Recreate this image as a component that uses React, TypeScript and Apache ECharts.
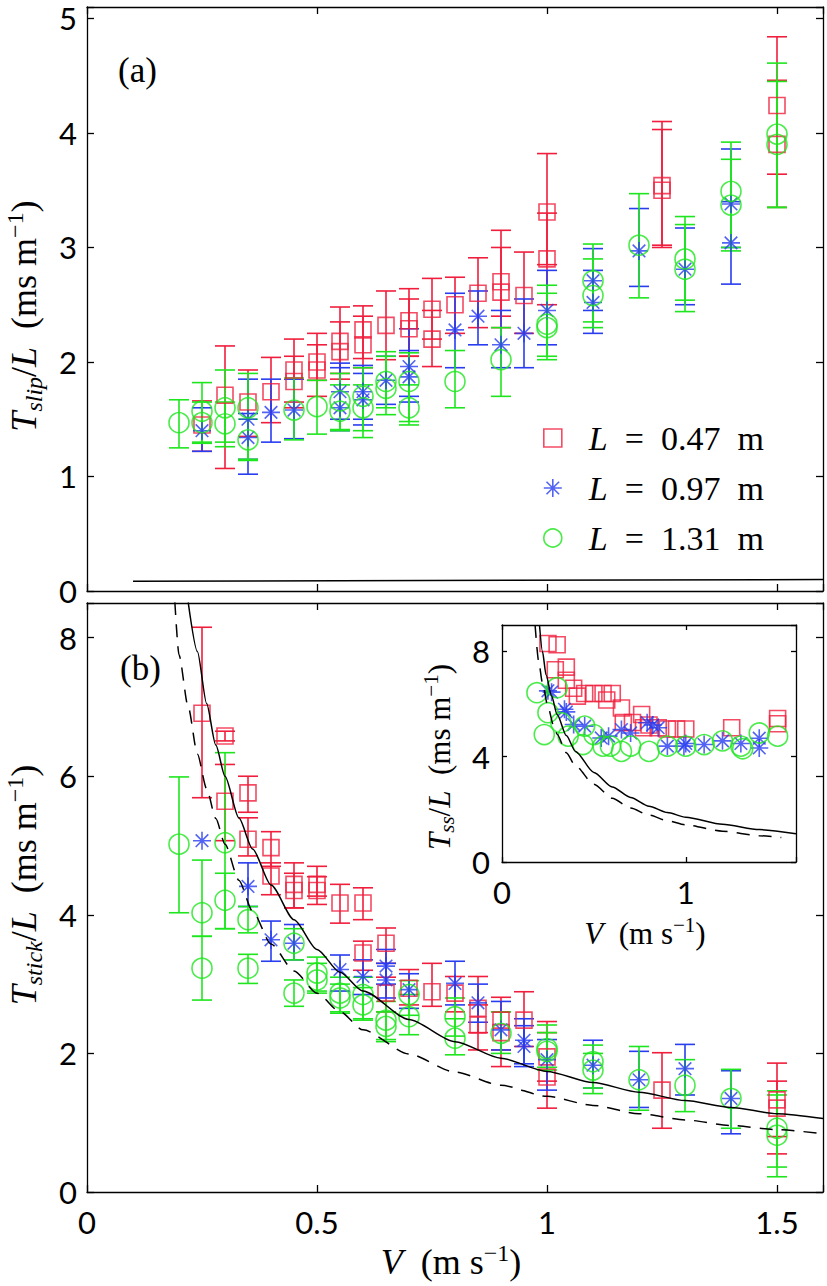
import React, { useEffect, useRef } from "react";
import * as echarts from "echarts";

const RED = "#f01e3c";
const BLUE = "#283cf0";
const GREEN = "#1ee61e";

// Panel (a): [V, Tslip/L, low, high]
const slip047: number[][] = [
  [0.25, 1.45, 1.22, 1.66], [0.3, 1.71, 1.07, 2.14], [0.35, 1.65, 1.35, 1.93], [0.4, 1.74, 1.47, 2.04],
  [0.45, 1.93, 1.65, 2.2], [0.45, 1.83, 1.6, 2.05], [0.5, 2.0, 1.84, 2.25], [0.5, 1.93, 1.7, 2.15],
  [0.55, 2.18, 1.9, 2.48], [0.55, 2.09, 1.85, 2.35], [0.6, 2.28, 2.03, 2.49], [0.6, 2.15, 1.95, 2.4],
  [0.65, 2.32, 2.02, 2.62], [0.7, 2.36, 2.05, 2.64], [0.7, 2.29, 2.05, 2.55], [0.75, 2.46, 2.2, 2.73],
  [0.75, 2.2, 1.96, 2.45], [0.8, 2.5, 2.25, 2.74], [0.85, 2.6, 2.3, 2.91], [0.9, 2.7, 2.4, 3.15],
  [0.9, 2.61, 2.3, 3.0], [0.95, 2.58, 2.25, 2.96], [1.0, 3.31, 2.85, 3.82], [1.0, 2.9, 2.5, 3.3],
  [1.25, 3.54, 3.0, 4.1], [1.25, 3.5, 3.02, 4.03], [1.5, 4.24, 3.64, 4.84], [1.5, 3.9, 3.35, 4.46],
];
const slip097: number[][] = [
  [0.25, 1.4, 1.22, 1.6], [0.35, 1.5, 1.02, 1.85], [0.35, 1.34, 1.15, 1.55], [0.4, 1.56, 1.3, 1.85],
  [0.45, 1.58, 1.33, 1.85], [0.55, 1.6, 1.4, 1.99], [0.55, 1.74, 1.5, 1.95], [0.6, 1.74, 1.5, 1.97],
  [0.6, 1.67, 1.45, 1.9], [0.65, 1.84, 1.63, 2.05], [0.7, 1.96, 1.7, 2.29], [0.7, 1.87, 1.65, 2.1],
  [0.8, 2.28, 1.95, 2.6], [0.85, 2.4, 2.15, 2.62], [0.9, 2.15, 1.95, 2.45], [0.95, 2.25, 1.95, 2.55],
  [1.0, 2.45, 2.15, 2.8], [1.1, 2.71, 2.45, 2.99], [1.1, 2.52, 2.25, 2.8], [1.2, 2.97, 2.66, 3.34],
  [1.3, 2.81, 2.5, 3.17], [1.4, 3.38, 3.0, 3.86], [1.4, 3.04, 2.68, 3.4],
];
const slip131: number[][] = [
  [0.2, 1.47, 1.25, 1.67], [0.25, 1.57, 1.29, 1.82], [0.25, 1.47, 1.3, 1.65], [0.3, 1.6, 1.26, 1.93],
  [0.3, 1.46, 1.3, 1.65], [0.35, 1.6, 1.14, 1.9], [0.35, 1.32, 1.15, 1.5], [0.45, 1.58, 1.32, 1.86],
  [0.5, 1.61, 1.37, 1.84], [0.55, 1.66, 1.41, 1.9], [0.55, 1.57, 1.4, 1.8], [0.6, 1.7, 1.34, 1.95],
  [0.6, 1.6, 1.4, 1.8], [0.65, 1.77, 1.54, 2.09], [0.65, 1.83, 1.6, 2.05], [0.7, 1.83, 1.48, 2.08],
  [0.7, 1.6, 1.45, 1.8], [0.8, 1.83, 1.6, 2.1], [0.9, 2.02, 1.7, 2.3], [1.0, 2.33, 2.05, 2.67],
  [1.0, 2.3, 2.02, 2.6], [1.1, 2.71, 2.35, 3.03], [1.1, 2.58, 2.3, 2.9], [1.2, 3.02, 2.56, 3.47],
  [1.3, 2.9, 2.54, 3.27], [1.3, 2.81, 2.44, 3.2], [1.4, 3.49, 2.97, 3.92], [1.4, 3.37, 3.0, 3.77],
  [1.5, 3.99, 3.35, 4.61], [1.5, 3.9, 3.35, 4.45],
];
const slipBaseline: number[][] = [[0.1, 0.085], [1.6, 0.1]];

// Panel (b): [V, Tstick/L, low, high]
const stick047: number[][] = [
  [0.25, 6.91, 5.69, 8.15], [0.3, 6.58, 6.51, 6.65], [0.3, 5.64, 5.07, 6.17], [0.35, 5.76, 5.48, 6.0],
  [0.35, 5.09, 4.85, 5.4], [0.4, 4.97, 4.7, 5.2], [0.4, 4.56, 4.29, 4.75], [0.45, 4.44, 4.1, 4.75],
  [0.45, 4.35, 4.1, 4.6], [0.5, 4.44, 4.27, 4.7], [0.5, 4.35, 4.15, 4.55], [0.55, 4.17, 3.88, 4.44],
  [0.6, 4.17, 3.93, 4.39], [0.6, 3.45, 3.2, 3.62], [0.65, 3.59, 3.3, 3.81], [0.65, 2.87, 2.6, 3.1],
  [0.7, 2.94, 2.7, 3.21], [0.75, 2.89, 2.68, 3.3], [0.8, 2.87, 2.6, 3.11], [0.85, 2.65, 2.3, 3.11],
  [0.85, 2.41, 2.05, 2.7], [0.9, 2.48, 1.81, 2.81], [0.9, 2.3, 2.05, 2.6], [0.95, 2.48, 2.1, 2.89],
  [1.0, 1.95, 1.6, 2.3], [1.0, 1.66, 1.21, 2.46], [1.25, 1.47, 0.92, 2.01], [1.5, 1.33, 0.55, 1.86],
  [1.5, 1.21, 0.8, 1.6],
];
const stick097: number[][] = [
  [0.25, 5.07, 5.07, 5.07], [0.35, 4.41, 4.12, 4.75], [0.4, 3.64, 3.33, 3.91], [0.45, 3.59, 3.35, 3.86],
  [0.55, 3.21, 2.9, 3.42], [0.6, 3.11, 2.85, 3.35], [0.65, 3.26, 3.0, 3.5], [0.65, 3.06, 2.8, 3.3],
  [0.7, 2.92, 2.65, 3.15], [0.8, 3.01, 2.7, 3.33], [0.85, 2.73, 2.45, 3.0], [0.9, 2.34, 2.05, 2.75],
  [0.95, 2.19, 1.81, 2.5], [0.95, 2.1, 1.85, 2.4], [1.0, 1.91, 1.47, 2.2], [1.1, 1.83, 1.5, 2.19],
  [1.2, 1.62, 1.22, 2.03], [1.3, 1.78, 1.4, 2.13], [1.4, 1.35, 0.84, 1.75],
];
const stick131: number[][] = [
  [0.2, 5.02, 4.03, 5.99], [0.25, 4.03, 3.69, 4.79], [0.25, 3.23, 2.77, 3.69], [0.3, 5.04, 3.8, 6.34],
  [0.3, 4.21, 3.8, 4.6], [0.35, 3.93, 3.74, 4.12], [0.35, 3.23, 3.01, 3.43], [0.45, 3.59, 3.35, 3.8],
  [0.45, 2.87, 2.68, 3.06], [0.5, 3.16, 2.87, 3.39], [0.5, 3.06, 2.9, 3.3], [0.55, 2.87, 2.58, 3.1],
  [0.55, 2.8, 2.6, 3.0], [0.6, 2.85, 2.48, 3.1], [0.6, 2.7, 2.5, 2.95], [0.65, 2.48, 2.17, 2.75],
  [0.65, 2.39, 2.2, 2.6], [0.7, 2.85, 2.55, 3.05], [0.7, 2.53, 2.27, 2.85], [0.8, 2.53, 2.25, 2.8],
  [0.8, 2.22, 1.98, 2.5], [0.9, 2.29, 2.0, 2.6], [1.0, 2.07, 1.76, 2.41], [1.0, 2.03, 1.8, 2.3],
  [1.1, 1.88, 1.42, 2.12], [1.1, 1.76, 1.5, 2.0], [1.2, 1.62, 1.18, 2.1], [1.3, 1.54, 1.16, 1.91],
  [1.4, 1.35, 0.92, 1.77], [1.5, 0.92, 0.22, 1.46], [1.5, 0.82, 0.36, 1.4],
];
// model curves
const stickModelSolid: number[][] = [
  [0.22, 8.51], [0.24, 7.8], [0.26, 7.05], [0.28, 6.45], [0.3, 6.0], [0.33, 5.4], [0.36, 4.95], [0.4, 4.43],
  [0.45, 3.93], [0.5, 3.5], [0.55, 3.17], [0.6, 2.9], [0.7, 2.49], [0.8, 2.17], [0.9, 1.93], [1.0, 1.74],
  [1.1, 1.58], [1.2, 1.44], [1.3, 1.32], [1.4, 1.22], [1.5, 1.13], [1.6, 1.06],
];
const stickModelDashed: number[][] = [
  [0.191, 8.51], [0.2, 7.75], [0.22, 7.0], [0.24, 6.32], [0.26, 5.82], [0.28, 5.39], [0.3, 5.02], [0.33, 4.5],
  [0.36, 4.05], [0.4, 3.58], [0.45, 3.19], [0.5, 2.87], [0.55, 2.6], [0.6, 2.34], [0.7, 1.99], [0.8, 1.73],
  [0.9, 1.54], [1.0, 1.38], [1.1, 1.25], [1.2, 1.13], [1.3, 1.04], [1.4, 0.96], [1.5, 0.9], [1.6, 0.84],
];

// Inset: [V, Tss/L]
const ss047: number[][] = [
  [0.25, 8.3], [0.3, 8.25], [0.29, 7.3], [0.35, 7.4], [0.35, 6.9], [0.39, 6.6], [0.41, 6.3], [0.45, 6.4],
  [0.5, 6.4], [0.55, 6.4], [0.6, 6.4], [0.57, 6.15], [0.65, 5.85], [0.66, 5.3], [0.71, 5.3], [0.76, 5.6],
  [0.77, 5.1], [0.8, 5.2], [0.85, 5.1], [0.9, 5.05], [0.95, 5.05], [1.0, 5.05], [1.25, 5.1], [1.5, 5.45], [1.5, 5.25],
];
const ss097: number[][] = [
  [0.25, 6.5], [0.27, 6.45], [0.34, 5.8], [0.35, 5.7], [0.39, 5.22], [0.45, 5.16], [0.54, 4.71], [0.58, 4.78],
  [0.65, 5.03], [0.7, 4.9], [0.79, 5.29], [0.82, 5.2], [0.85, 5.1], [0.9, 4.4], [0.99, 4.4], [1.0, 4.5],
  [1.1, 4.46], [1.2, 4.6], [1.3, 4.5], [1.4, 4.7], [1.4, 4.33],
];
const ss131: number[][] = [
  [0.19, 6.43], [0.25, 5.67], [0.3, 6.62], [0.23, 4.84], [0.32, 5.29], [0.36, 4.78], [0.45, 5.16], [0.44, 4.46],
  [0.5, 4.84], [0.55, 4.4], [0.59, 4.4], [0.65, 4.2], [0.7, 4.4], [0.8, 4.2], [0.9, 4.4], [1.0, 4.4],
  [1.1, 4.46], [1.2, 4.6], [1.3, 4.4], [1.31, 4.3], [1.4, 4.9], [1.5, 4.78],
];
const ssModelSolid: number[][] = [
  [0.204, 9.0], [0.22, 8.0], [0.24, 7.1], [0.27, 6.3], [0.3, 5.6], [0.35, 4.8], [0.4, 4.2], [0.5, 3.4],
  [0.6, 2.85], [0.7, 2.45], [0.8, 2.12], [0.9, 1.88], [1.0, 1.7], [1.2, 1.43], [1.4, 1.23], [1.6, 1.07],
];
const ssModelDashed: number[][] = [
  [0.18, 9.0], [0.2, 7.6], [0.22, 6.8], [0.25, 5.9], [0.28, 5.2], [0.3, 4.85], [0.35, 4.15], [0.4, 3.65],
  [0.5, 2.95], [0.6, 2.42], [0.7, 2.05], [0.8, 1.78], [0.9, 1.57], [1.0, 1.41], [1.2, 1.17], [1.4, 1.0], [1.52, 0.93],
];

const legendLabels: Record<string, string> = {
  "L = 0.47 m": "{i|L}{r|\u2002=\u20020.47\u2002m}",
  "L = 0.97 m": "{i|L}{r|\u2002=\u20020.97\u2002m}",
  "L = 1.31 m": "{i|L}{r|\u2002=\u20021.31\u2002m}",
};

const ASTERISK = "path://M10,0L10,20M0,10L20,10M3,3L17,17M3,17L17,3";
const SERIF = "Liberation Serif";
const TICKFONT = "Lato";

// axis index pairs: grid (a) -> 0, grid (b) -> 2, inset -> 4
const AX_A = 0;
const AX_B = 2;
const AX_C = 4;

function labelRich(size: number, sub: number) {
  const lh = Math.round(size * 1.2);
  return {
    T: { fontFamily: SERIF, fontStyle: "italic", fontSize: size, lineHeight: lh, fill: "#000" },
    r: { fontFamily: SERIF, fontSize: size, lineHeight: lh, fill: "#000" },
    sub: { fontFamily: SERIF, fontStyle: "italic", fontSize: sub, lineHeight: sub + 2, verticalAlign: "bottom", fill: "#000" },
    sup: { fontFamily: SERIF, fontSize: sub, lineHeight: sub + 2, verticalAlign: "top", fill: "#000" },
  };
}

function axisCommon(grid: number, min: number, max: number, interval: number, pos: string, labels: boolean, fmt: (v: number) => string, tickLen: number, margin: number) {
  return {
    type: "value", gridIndex: grid, min, max, interval, position: pos,
    axisLine: { show: true, onZero: false, lineStyle: { color: "#000", width: 1.3 } },
    axisTick: { show: true, inside: true, length: tickLen, lineStyle: { color: "#000", width: 1.3 } },
    splitLine: { show: false },
    axisLabel: { show: labels, formatter: fmt, fontFamily: TICKFONT, fontSize: 31, lineHeight: 26, color: "#000", margin },
  };
}

const halfFmt = (v: number) => (Math.abs(v * 2 - Math.round(v * 2)) < 1e-6 ? String(+v.toFixed(1)) : "");
const intFmt = (v: number) => (Math.abs(v - Math.round(v)) < 1e-6 ? String(Math.round(v)) : "");

function errBars(name: string, data: number[][], color: string, axis: number) {
  return {
    type: "custom", name, xAxisIndex: axis, yAxisIndex: axis, clip: true, silent: true, data,
    encode: { x: 0, y: [2, 3] },
    renderItem: (_p: any, api: any) => {
      const v = api.value(0), lo = api.value(2), hi = api.value(3);
      if (hi - lo < 1e-6) return { type: "group", children: [] };
      const a = api.coord([v, lo]);
      const b = api.coord([v, hi]);
      const style = { stroke: color, lineWidth: 1.6, fill: null };
      return {
        type: "group",
        children: [
          { type: "line", shape: { x1: a[0], y1: a[1], x2: b[0], y2: b[1] }, style },
          { type: "line", shape: { x1: a[0] - 10, y1: a[1], x2: a[0] + 10, y2: a[1] }, style },
          { type: "line", shape: { x1: b[0] - 10, y1: b[1], x2: b[0] + 10, y2: b[1] }, style },
        ],
      };
    },
  };
}

function marks(name: string, data: number[][], color: string, axis: number, symbol: string, size: number) {
  return {
    type: "scatter", name, xAxisIndex: axis, yAxisIndex: axis, data, symbol, symbolSize: size, silent: true,
    itemStyle: { color: "rgba(0,0,0,0)", borderColor: color, borderWidth: 1.6 },
  };
}

function curve(name: string, data: number[][], axis: number, dashed: boolean) {
  return {
    type: "line", name, xAxisIndex: axis, yAxisIndex: axis, data, showSymbol: false, symbol: "none",
    smooth: 0.25, smoothMonotone: "x", silent: true, z: 4,
    lineStyle: { color: "#000", width: 1.5, type: dashed ? [13, 9] : "solid" },
  };
}

export default function App() {
  const ref = useRef<HTMLDivElement>(null);
  useEffect(() => {
    if (!ref.current) return;
    const chart = echarts.init(ref.current, undefined, { renderer: "svg" });
    const lr = labelRich(36, 24);
    const lrSmall = labelRich(31, 21);
    const option: any = {
      animation: false,
      backgroundColor: "#fff",
      grid: [
        { left: 87, top: 7, width: 736, height: 584, show: false },
        { left: 87, top: 603, width: 736, height: 589, show: false },
        { left: 502, top: 625, width: 294, height: 237, show: true, backgroundColor: "#fff", borderWidth: 0, z: 3 },
      ],
      xAxis: [
        axisCommon(0, 0, 1.6, 0.5, "bottom", false, halfFmt, 7, 14),
        axisCommon(0, 0, 1.6, 0.5, "top", false, halfFmt, 7, 14),
        axisCommon(1, 0, 1.6, 0.5, "bottom", true, halfFmt, 7, 17),
        axisCommon(1, 0, 1.6, 0.5, "top", false, halfFmt, 7, 14),
        { ...axisCommon(2, 0, 1.6, 1, "bottom", true, intFmt, 5, 17), z: 5 },
        { ...axisCommon(2, 0, 1.6, 1, "top", false, intFmt, 5, 14), z: 5 },
      ],
      yAxis: [
        axisCommon(0, 0, 5.1, 1, "left", true, intFmt, 7, 10),
        axisCommon(0, 0, 5.1, 1, "right", false, intFmt, 7, 10),
        axisCommon(1, 0, 8.5, 2, "left", true, intFmt, 7, 10),
        axisCommon(1, 0, 8.5, 2, "right", false, intFmt, 7, 10),
        { ...axisCommon(2, 0, 9, 4, "left", true, intFmt, 5, 12), z: 5 },
        { ...axisCommon(2, 0, 9, 4, "right", false, intFmt, 5, 12), z: 5 },
      ],
      legend: {
        orient: "vertical", left: 538, top: 416, itemGap: 16, itemWidth: 18, itemHeight: 18,
        selectedMode: false,
        data: [
          { name: "L = 0.47 m", icon: "rect", itemStyle: { color: "rgba(0,0,0,0)", borderColor: RED, borderWidth: 1.6 } },
          { name: "L = 0.97 m", icon: ASTERISK, itemStyle: { color: "rgba(0,0,0,0)", borderColor: BLUE, borderWidth: 1.6 } },
          { name: "L = 1.31 m", icon: "circle", itemStyle: { color: "rgba(0,0,0,0)", borderColor: GREEN, borderWidth: 1.6 } },
        ],
        formatter: (n: string) => legendLabels[n] || n,
        textStyle: {
          color: "#000", fontFamily: SERIF, fontSize: 34, lineHeight: 34,
          rich: {
            i: { fontFamily: SERIF, fontStyle: "italic", fontSize: 34, lineHeight: 34, padding: [0, 0, 0, 22] },
            r: { fontFamily: SERIF, fontSize: 34, lineHeight: 34 },
          },
        },
      },
      series: [
        errBars("ea047", slip047, RED, AX_A),
        marks("L = 0.47 m", slip047, RED, AX_A, "rect", 16),
        errBars("ea097", slip097, BLUE, AX_A),
        marks("L = 0.97 m", slip097, BLUE, AX_A, ASTERISK, 18),
        errBars("ea131", slip131, GREEN, AX_A),
        marks("L = 1.31 m", slip131, GREEN, AX_A, "circle", 20),
        curve("baseA", slipBaseline, AX_A, false),

        errBars("eb047", stick047, RED, AX_B),
        marks("b047", stick047, RED, AX_B, "rect", 16),
        errBars("eb097", stick097, BLUE, AX_B),
        marks("b097", stick097, BLUE, AX_B, ASTERISK, 18),
        errBars("eb131", stick131, GREEN, AX_B),
        marks("b131", stick131, GREEN, AX_B, "circle", 20),
        curve("bSolid", stickModelSolid, AX_B, false),
        curve("bDashed", stickModelDashed, AX_B, true),

        { ...marks("c047", ss047, RED, AX_C, "rect", 16), z: 6 },
        { ...marks("c097", ss097, BLUE, AX_C, ASTERISK, 18), z: 6 },
        { ...marks("c131", ss131, GREEN, AX_C, "circle", 20), z: 6 },
        { ...curve("cSolid", ssModelSolid, AX_C, false), z: 7 },
        { ...curve("cDashed", ssModelDashed, AX_C, true), z: 7 },
      ],
      graphic: [
        { type: "text", left: 118, top: 53, style: { text: "(a)", fontFamily: SERIF, fontSize: 35, fill: "#000" } },
        { type: "text", left: 120, top: 651, style: { text: "(b)", fontFamily: SERIF, fontSize: 35, fill: "#000" } },
        {
          type: "text", x: 24, y: 316, rotation: Math.PI / 2,
          style: { text: "{T|T}{sub|slip}{r|/}{T|L}{r|\u2002(ms\u2005m}{sup|\u22121}{r|)}", rich: lr, align: "center", verticalAlign: "middle" },
        },
        {
          type: "text", x: 24, y: 885, rotation: Math.PI / 2,
          style: { text: "{T|T}{sub|stick}{r|/}{T|L}{r|\u2002(ms\u2005m}{sup|\u22121}{r|)}", rich: lr, align: "center", verticalAlign: "middle" },
        },
        {
          type: "text", x: 451, y: 1262,
          style: { text: "{T|V}{r|\u2002(m\u2005s}{sup|\u22121}{r|)}", rich: lr, align: "center", verticalAlign: "middle" },
        },
        {
          type: "text", x: 439, y: 757, rotation: Math.PI / 2, z: 10,
          style: { text: "{T|T}{sub|ss}{r|/}{T|L}{r|\u2002(ms\u2005m}{sup|\u22121}{r|)}", rich: lrSmall, align: "center", verticalAlign: "middle" },
        },
        {
          type: "text", x: 645, y: 933, z: 10,
          style: { text: "{T|V}{r|\u2002(m\u2005s}{sup|\u22121}{r|)}", rich: lrSmall, align: "center", verticalAlign: "middle" },
        },
      ],
    };
    chart.setOption(option);
    return () => chart.dispose();
  }, []);
  return <div ref={ref} style={{ position: "absolute", left: 0, top: 0, width: 827, height: 1286 }} />;
}
